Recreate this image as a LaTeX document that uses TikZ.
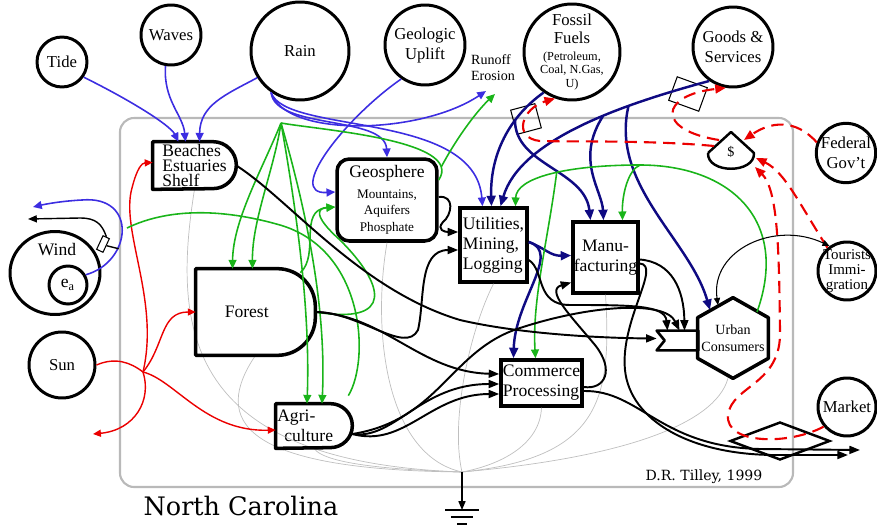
\documentclass[tikz,border=0pt]{standalone}
\usepackage{fontspec}
\setmainfont{Liberation Serif}
\newfontfamily\wideserif{DejaVu Serif}
\usetikzlibrary{arrows.meta, shapes.geometric, calc}

\definecolor{srcblue}{RGB}{60,45,225}
\definecolor{fuelblue}{RGB}{15,10,130}
\definecolor{recgreen}{RGB}{25,180,25}
\definecolor{sunred}{RGB}{235,0,0}

\newcommand{\fuelnote}[1]{{\fontsize{7}{8}\selectfont #1}}

\tikzset{
  src/.style={circle, draw, line width=1.7pt, inner sep=0pt, align=center,
    font=\fontsize{9.5}{11.4}\selectfont},
  holder/.style={inner sep=0pt, align=left, font=\fontsize{10}{11.4}\selectfont},
  unitbox/.style={holder, draw, line width=2pt},
  unitline/.style={line width=2pt, line join=round},
  bflow/.style={srcblue, line width=0.9pt, -{Triangle[length=5pt,width=4.5pt]}},
  nflow/.style={fuelblue, line width=1.4pt, -{Triangle[length=6pt,width=5pt]}},
  gline/.style={recgreen, line width=0.9pt},
  gflow/.style={gline, -{Triangle[length=5pt,width=4.5pt]}},
  rline/.style={sunred, line width=0.8pt},
  rflow/.style={rline, -{Triangle[length=4.5pt,width=4pt]}},
  mflow/.style={sunred, line width=1.2pt, dash pattern=on 7pt off 4pt,
    -{Triangle[length=6pt,width=5pt]}},
  kflow/.style={black, line width=1.1pt, -{Triangle[length=6pt,width=4.5pt]}},
  heat/.style={gray!50, line width=0.4pt},
}

\begin{document}
\begin{tikzpicture}[x=0.02cm, y=-0.02cm]
  \useasboundingbox (0,0) rectangle (877,528);

  % ---- system frame ----
  \draw[gray!55, line width=1.2pt, rounded corners=8pt] (120,118) rectangle (793,487);
  \node[font=\wideserif\fontsize{14.5}{16}\selectfont] (ncname) at (241,506) {North Carolina};
  \node[font=\wideserif\fontsize{8}{9}\selectfont] (credit) at (704,477) {D.R. Tilley, 1999};

  % ---- outside sources ----
  \node[src, minimum size=1cm] (tide) at (62,62) {Tide};
  \node[src, minimum size=1.2cm] (waves) at (171,35) {Waves};
  \node[src, minimum size=1.96cm] (rain) at (300,51) {Rain};
  \node[src, minimum size=1.6cm] (uplift) at (425,45) {Geologic\\Uplift};
  \node[src, minimum size=1.92cm, label={[align=center, inner sep=0pt,
    font=\fontsize{9.5}{10.2}\selectfont]center:Fossil\\Fuels\\[-1pt]\fuelnote{(Petroleum,}\\[-2.5pt]\fuelnote{Coal, N.Gas,}\\[-2.5pt]\fuelnote{U)}}]
    (fossil) at (572,52) {};
  \node[src, minimum size=1.6cm] (goods) at (733,47) {Goods \&\\Services};
  \node[src, minimum size=1.12cm] (fed) at (846,153) {Federal\\Gov't};
  \node[src, minimum size=1.16cm, label={[align=center, inner sep=0pt,
    font=\fontsize{8.5}{8.4}\selectfont]center:Tourists\\Immi-\\gration}] (tour) at (847,271) {};
  \node[src, minimum size=1.16cm] (market) at (847,407) {Market};
  \node[src, minimum size=1.32cm] (sun) at (62,365) {Sun};
  \node[draw, ellipse, line width=1.7pt, minimum width=1.8cm, minimum height=1.66cm,
    inner sep=0pt] (wind) at (55,273) {};
  \node[font=\fontsize{10}{12}\selectfont] (windtext) at (57,250) {Wind};
  \node[src, minimum size=0.76cm, font=\fontsize{10}{12}\selectfont] (ea) at (68,285)
    {e\textsubscript{a}};
  \node[font=\fontsize{8}{9}\selectfont, align=left, inner sep=1pt] (runoff) at (493,68)
    {Runoff\\Erosion};

  % ---- free ends ----
  \coordinate (windout1) at (33,207);
  \coordinate (windout2) at (28,219);
  \coordinate (sunj) at (143,372);
  \coordinate (sunout) at (93,434);
  \coordinate (gsrc) at (281,123);
  \coordinate (gwind) at (127,228);
  \coordinate (sink) at (462,472);
  \coordinate (ground) at (462,510);
  \coordinate (export1) at (860,450);
  \coordinate (export2) at (848,455);

  % ---- units ----
  \node[holder, minimum width=1.66cm, minimum height=0.94cm,
    font=\fontsize{10}{8.8}\selectfont] (beach) at (194.5,165.5) {Beaches\\Estuaries\\Shelf\hspace*{10pt}};
  \node[draw, rounded corners=7pt, line width=2pt, minimum width=2cm, minimum height=1.64cm,
    inner sep=0pt, align=center, font=\fontsize{7.5}{9.5}\selectfont] (geo) at (387,200)
    {{\fontsize{10}{12}\selectfont Geosphere}\\[2pt]Mountains,\\Aquifers\\Phosphate};
  \node[holder, minimum width=2.38cm, minimum height=1.72cm, align=center] (forest)
    at (255.5,312) {Forest\hspace*{10pt}};
  \node[holder, minimum width=1.52cm, minimum height=0.88cm] (agri) at (314,426)
    {Agri-\\\hspace*{4pt}culture\hspace*{10pt}};
  \node[unitbox, minimum width=1.34cm, minimum height=1.48cm] (util) at (493.5,245)
    {Utilities,\\Mining,\\Logging};
  \node[unitbox, minimum width=1.3cm, minimum height=1.42cm, align=center] (manu)
    at (605.5,257.5) {Manu-\\facturing};
  \node[unitbox, minimum width=1.62cm, minimum height=0.92cm] (commerce) at (541.5,383)
    {Commerce\\Processing};
  \node[holder, minimum width=1.4cm, minimum height=1.6cm, align=center,
    font=\fontsize{8}{9.5}\selectfont] (urban) at (733,338) {Urban\\Consumers};
  \node[inner sep=0pt, minimum width=0.82cm, minimum height=0.38cm] (gate) at (677.5,340.5) {};
  \node[font=\fontsize{8}{9}\selectfont] (dollar) at (731,152) {\$};

  % ---- transactions and switches ----
  \node[draw, line width=0.6pt, minimum size=0.5cm, inner sep=0pt, rotate=15] (fosdia)
    at (526,119) {};
  \node[draw, line width=0.6pt, minimum width=0.64cm, minimum height=0.5cm, inner sep=0pt,
    rotate=-20] (gdsdia) at (688,94) {};
  \node[diamond, draw, line width=1.4pt, minimum width=2cm, minimum height=0.76cm,
    inner sep=0pt] (mktdia) at (780,441) {};
  \node[draw, line width=0.6pt, minimum width=0.14cm, minimum height=0.3cm, inner sep=0pt,
    rotate=-25] (windgate) at (103,244) {};

  % ---- heat sinks ----
  \draw[heat] (beach.south) .. controls (172,330) and (185,462) .. (sink);
  \draw[heat] (forest.south) .. controls (212,420) and (240,470) .. (sink);
  \draw[heat] (agri.south) .. controls (325,465) and (400,470) .. (sink);
  \draw[heat] (geo.south) .. controls (372,330) and (385,455) .. (sink);
  \draw[heat] (util.south) .. controls (470,330) and (450,420) .. (sink);
  \draw[heat] (commerce.south) .. controls (540,445) and (500,465) .. (sink);
  \draw[heat] (manu.south) .. controls (612,400) and (600,458) .. (sink);
  \draw[heat] ([shift={(-5,0)}]urban.south) .. controls (715,425) and (620,458) .. (sink);
  \draw[black, line width=0.7pt, -{Triangle[length=5pt,width=4pt]}] (sink) -- (ground);
  \draw[black, line width=0.7pt] ([shift={(-17,0)}]ground) -- ([shift={(17,0)}]ground)
    ([shift={(-11,7)}]ground) -- ([shift={(11,7)}]ground)
    ([shift={(-5,14)}]ground) -- ([shift={(5,14)}]ground);

  % ---- unit outlines ----
  \draw[unitline] (beach.south west) -- (beach.north west)
    -- ([shift={(-23.5,0)}]beach.north east) arc[start angle=90, end angle=-90, radius=0.47cm]
    -- cycle;
  \draw[unitline] (forest.south west) -- (forest.north west)
    -- ([shift={(-38,0)}]forest.north east) arc[start angle=90, end angle=0, radius=0.76cm]
    -- ([shift={(0,-38)}]forest.south east) arc[start angle=0, end angle=-90, radius=0.76cm]
    -- cycle;
  \draw[unitline] (agri.south west) -- (agri.north west)
    -- ([shift={(-22,0)}]agri.north east) arc[start angle=90, end angle=-90, radius=0.44cm]
    -- cycle;
  \draw[unitline] (urban.north) -- ([shift={(0,20)}]urban.north east)
    -- ([shift={(0,-20)}]urban.south east) -- (urban.south)
    -- ([shift={(0,-20)}]urban.south west) -- ([shift={(0,20)}]urban.north west) -- cycle;
  \draw[line width=1.5pt, line join=round] (gate.north west) -- (gate.north east)
    -- (gate.south east) -- (gate.south west) -- ([shift={(8,0)}]gate.west) -- cycle;
  \draw[line width=1.4pt, line join=round] ([shift={(-23,1)}]dollar.center)
    -- ([shift={(0,-20)}]dollar.center) -- ([shift={(23,1)}]dollar.center)
    .. controls ([shift={(24,22)}]dollar.center) and ([shift={(-24,22)}]dollar.center)
    .. ([shift={(-23,1)}]dollar.center);

  % ---- sun ----
  \draw[rline] (sun.east) .. controls (115,357) and (130,362) .. (sunj);
  \draw[rflow] (sunj) .. controls (165,345) and (160,312) .. (forest.west);
  \draw[rflow] (sunj) .. controls (160,300) and (120,230) .. (132,188)
    .. controls (137,168) and (142,163) .. ([shift={(0,-3)}]beach.west);
  \draw[rflow] (sunj) .. controls (175,380) and (205,432) .. ([shift={(0,4)}]agri.west);
  \draw[rflow] (sunj) .. controls (152,400) and (135,430) .. (sunout);

  % ---- rain, tide, waves, uplift ----
  \draw[bflow] (tide.-35) .. controls (130,100) and (170,125) .. ([shift={(-16,0)}]beach.north);
  \draw[bflow] (waves.-100) .. controls (163,100) and (183,115) .. ([shift={(-9,0)}]beach.north);
  \draw[bflow] (rain.-148) .. controls (225,95) and (200,105) .. ([shift={(5,0)}]beach.north);
  \draw[bflow] (rain.-125) .. controls (275,130) and (385,115) .. (geo.north);
  \draw[bflow] (rain.-125) .. controls (285,138) and (420,135) .. ([shift={(-7,8)}]runoff.south);
  \draw[bflow] (rain.-125) .. controls (285,135) and (475,110) .. ([shift={(-11,0)}]util.north);
  \draw[bflow] (uplift.-125) .. controls (345,118) and (285,195) .. ([shift={(0,-8)}]geo.west);

  % ---- wind ----
  \draw[bflow] (ea.30) .. controls (132,262) and (138,195) .. (82,200)
    .. controls (62,201) and (46,204) .. (windout1);
  \draw[black, line width=0.8pt, -{Triangle[length=5pt,width=4pt]}] (windgate.north)
    .. controls (102,224) and (96,218) .. (80,218) -- (windout2);
  \draw[black, line width=0.8pt] (windgate.east) -- ++(12,3);

  % ---- fuels and goods ----
  \draw[nflow] (fossil.-125) .. controls (505,120) and (490,160) .. ([shift={(-2,0)}]util.north)
    coordinate[pos=0.3] (fosbr);
  \draw[nflow] (fosbr) .. controls (515,165) and (585,170) .. ([shift={(-15,0)}]manu.north);
  \draw[nflow] (goods.-125) .. controls (620,105) and (520,140) .. ([shift={(7,0)}]util.north)
    coordinate[pos=0.4] (gdsbr1) coordinate[pos=0.3] (gdsbr2);
  \draw[nflow] (gdsbr1) .. controls (575,160) and (602,190) .. ([shift={(-2,0)}]manu.north);
  \draw[nflow] (gdsbr2) .. controls (610,185) and (690,240) .. ([shift={(-23,-28)}]urban.center);
  \draw[nflow] ([shift={(0,-3)}]util.east) .. controls (545,248) and (550,256) .. ([shift={(0,-2)}]manu.west);
  \draw[nflow] ([shift={(0,-3)}]util.east) .. controls (562,252) and (515,300) .. ([shift={(-28,0)}]commerce.north);

  % ---- recycle (green) ----
  \draw[gline] ([shift={(0,-20)}]geo.east) .. controls (465,140) and (320,130) .. (gsrc)
    coordinate[pos=0.12] (georun);
  \draw[gflow] (georun) .. controls (460,132) and (480,108) .. ([shift={(2,11)}]runoff.south);
  \draw[gflow] (gsrc) .. controls (262,170) and (233,220) .. ([shift={(-23,0)}]forest.north);
  \draw[gflow] (gsrc) .. controls (274,170) and (252,220) .. ([shift={(-3,0)}]forest.north);
  \draw[gflow] (gsrc) .. controls (300,230) and (310,320) .. ([shift={(-7,0)}]agri.north);
  \draw[gflow] (gsrc) .. controls (312,230) and (326,320) .. ([shift={(8,0)}]agri.north);
  \draw[gflow] ([shift={(-15,4)}]forest.north east) .. controls (320,255) and (298,210) .. ([shift={(0,7)}]geo.west);
  \draw[gflow] (forest.east) .. controls (395,325) and (385,285) .. (340,240)
    .. controls (312,215) and (318,208) .. ([shift={(0,7)}]geo.west);
  \draw[gline] ([shift={(-4,-8)}]agri.north east) .. controls (370,360) and (365,250) .. (280,225)
    .. controls (210,205) and (160,212) .. (gwind);
  \draw[gflow] ([shift={(24,-26)}]urban.center) .. controls (790,220) and (730,165) .. (640,165)
    coordinate (grtop) .. controls (565,165) and (516,178) .. ([shift={(22,0)}]util.north)
    coordinate[pos=0.45] (grleft);
  \draw[gflow] (grtop) .. controls (628,170) and (622,195) .. ([shift={(17,0)}]manu.north);
  \draw[gflow] (grleft) .. controls (548,240) and (532,300) .. ([shift={(-6,0)}]commerce.north);

  % ---- money (dashed) ----
  \draw[mflow] ([shift={(-17,-6)}]dollar.center) .. controls (650,140) and (570,142) .. (540,141)
    .. controls (512,138) and (522,108) .. (fossil.-110);
  \draw[mflow] ([shift={(-12,-12)}]dollar.center) .. controls (655,130) and (660,95) .. (goods.-100);
  \draw[mflow] (fed.160) .. controls (795,118) and (770,122) .. ([shift={(13,-12)}]dollar.center);
  \draw[mflow] (tour.130) .. controls (800,205) and (785,172) .. ([shift={(25,6)}]dollar.center);
  \draw[mflow] (market.-140) .. controls (790,445) and (725,445) .. (728,415)
    .. controls (732,385) and (782,385) .. (780,330)
    .. controls (779,250) and (778,190) .. ([shift={(24,15)}]dollar.center);

  % ---- production flows ----
  \draw[kflow] (beach.east) .. controls (290,200) and (360,290) .. (460,320)
    .. controls (520,334) and (600,338) .. ([shift={(0,-2)}]gate.west);
  \draw[kflow] (forest.east) .. controls (360,312) and (405,355) .. (418,330)
    .. controls (425,300) and (418,250) .. ([shift={(0,5)}]util.west);
  \draw[kflow] (forest.east) .. controls (385,315) and (420,372) .. ([shift={(0,-9)}]commerce.west);
  \draw[kflow] ([shift={(0,8)}]agri.east) .. controls (395,440) and (420,384) .. ([shift={(0,1)}]commerce.west);
  \draw[kflow] ([shift={(0,8)}]agri.east) .. controls (405,448) and (430,394) .. ([shift={(0,11)}]commerce.west);
  \draw[kflow] ([shift={(0,8)}]agri.east) .. controls (440,420) and (450,350) .. (520,328)
    .. controls (590,305) and (665,300) .. ([shift={(2,0)}]gate.north);
  \draw[kflow] ([shift={(0,-3)}]geo.east) .. controls (455,195) and (452,215) .. (443,222)
    .. controls (436,230) and (445,232) .. ([shift={(0,-13)}]util.west);
  \draw[kflow] ([shift={(0,15)}]util.east) .. controls (545,270) and (535,305) .. (570,305)
    .. controls (630,305) and (665,305) .. ([shift={(-10,0)}]gate.north);
  \draw[kflow] ([shift={(0,2)}]manu.east) .. controls (672,262) and (684,290) .. ([shift={(7,0)}]gate.north);
  \draw[kflow] ([shift={(0,4)}]commerce.east) .. controls (605,390) and (615,370) .. (595,345)
    .. controls (570,315) and (545,290) .. ([shift={(0,25)}]manu.west);
  \draw[kflow] ([shift={(0,8)}]commerce.east) .. controls (640,390) and (660,447) .. (760,449)
    -- (export1);
  \draw[kflow] ([shift={(0,6)}]manu.east) .. controls (662,265) and (620,320) .. (625,370)
    .. controls (630,420) and (690,456) .. (780,455) -- (export2);
  \draw[black, line width=0.6pt, {Triangle[length=4pt,width=3.5pt]}-{Triangle[length=4pt,width=3.5pt]}]
    ([shift={(-15,-33)}]urban.center) .. controls (710,250) and (775,220) .. (tour.125);
\end{tikzpicture}
\end{document}
